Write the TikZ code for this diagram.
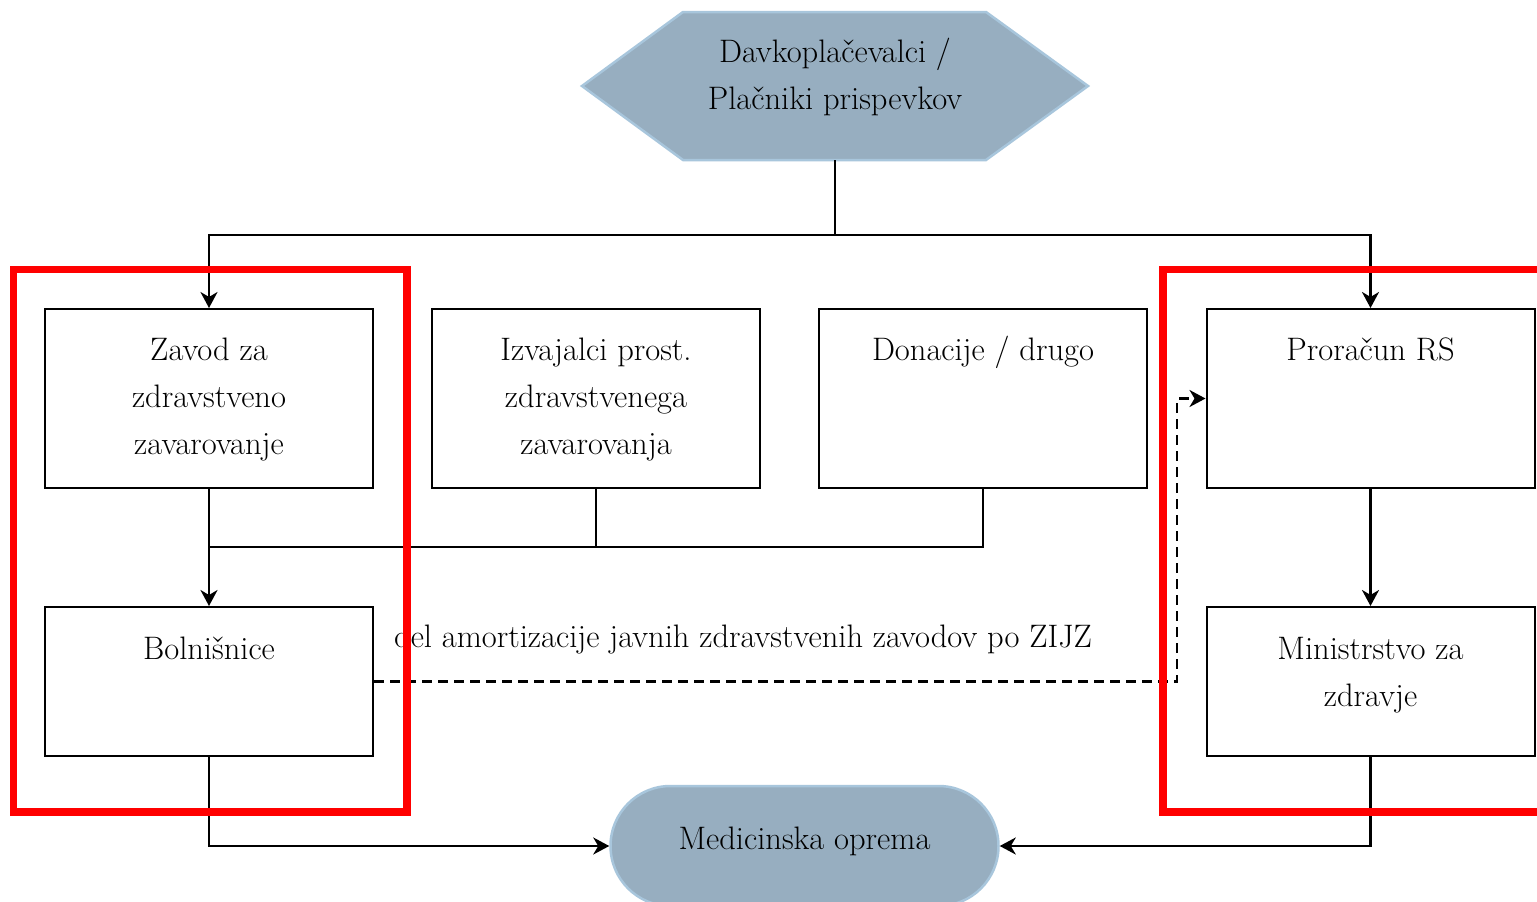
\documentclass[tikz,border=0pt]{standalone}
\usepackage{fontspec}
\usetikzlibrary{arrows.meta,calc}
\definecolor{hexfill}{RGB}{151,174,192}
\definecolor{hexedge}{RGB}{168,198,220}
\begin{document}
\begin{tikzpicture}[x=1pt,y=-1pt,
  box/.style={draw,line width=2pt,minimum width=328pt,minimum height=179pt,inner sep=0pt},
  lowbox/.style={box,minimum height=149pt},
  txt/.style={font=\fontsize{32.5}{47}\selectfont,align=center,inner sep=0pt,anchor=north},
  flow/.style={line width=2.6pt},
  arr/.style={flow,-{Stealth[length=16pt,width=17pt,inset=5pt]}},
  dasharr/.style={arr,dash pattern=on 10pt off 6pt},
  redbox/.style={draw=red,line width=7.5pt},
  shaded/.style={fill=hexfill,draw=hexedge,line width=2.5pt}
]
\useasboundingbox[fill=white] (0,0) rectangle (1537,902);

% hexagon
\node[minimum width=506pt,minimum height=148pt,inner sep=0pt] (dav) at (835,86) {};
\path[shaded] (683,12) -- (986,12) -- (1088,86) -- (986,160) -- (683,160) -- (582,86) -- cycle;
\node[txt] (davt) at (835,29) {\strut Davkopla\v{c}evalci /\\Pla\v{c}niki prispevkov};

% boxes
\node[box] (zzzs) at (209,398.5) {};
\node[box] (izv) at (596,398.5) {};
\node[box] (don) at (983,398.5) {};
\node[box] (pror) at (1370.5,398.5) {};
\node[lowbox] (bol) at (209,681.5) {};
\node[lowbox] (min) at (1370.5,681.5) {};

\node[txt] (tzzzs) at ($(zzzs.north)+(0,19)$) {\strut Zavod za\\zdravstveno\\zavarovanje};
\node[txt] (tizv) at ($(izv.north)+(0,19)$) {\strut Izvajalci prost.\\zdravstvenega\\zavarovanja};
\node[txt] (tdon) at ($(don.north)+(0,19)$) {\strut Donacije / drugo};
\node[txt] (tpror) at ($(pror.north)+(0,19)$) {\strut Prora\v{c}un RS};
\node[txt] (tbol) at ($(bol.north)+(0,20)$) {\strut Bolni\v{s}nice};
\node[txt] (tmin) at ($(min.north)+(0,20)$) {\strut Ministrstvo za\\zdravje};

% medical equipment
\node[shaded,rounded corners=60pt,minimum width=388pt,minimum height=120pt,
      text height=20pt,text depth=14pt,
      font=\fontsize{32.5}{47}\selectfont] (med) at (804.5,846) {Medicinska oprema};

% connectors
\coordinate (top) at (835,235);
\coordinate (mid) at (209,547);
\coordinate (dx) at (1177,540);
\draw[flow] (dav.south) -- (top);
\draw[arr] (top) -| (zzzs.north);
\draw[arr] (top) -| (pror.north);
\draw[arr] (zzzs.south) -- (bol.north);
\draw[flow] (don.south) |- (mid);
\draw[flow] (izv.south) -- (izv.south |- mid);
\draw[arr] (pror.south) -- (min.north);
\draw[arr] (bol.south) |- (med.west);
\draw[arr] (min.south) |- (med.east);
\draw[dasharr] (bol.east) -- (bol.east -| dx) -- (pror.west -| dx) -- (pror.west);

\node[font=\fontsize{32.5}{47}\selectfont,inner sep=0pt,anchor=base] (am) at (743,647)
  {del amortizacije javnih zdravstvenih zavodov po ZIJZ};

% red highlight frames
\draw[redbox] (13.5,269.5) rectangle (407,812);
\draw[redbox] (1163,269.5) rectangle (1545,812);
\end{tikzpicture}
\end{document}
